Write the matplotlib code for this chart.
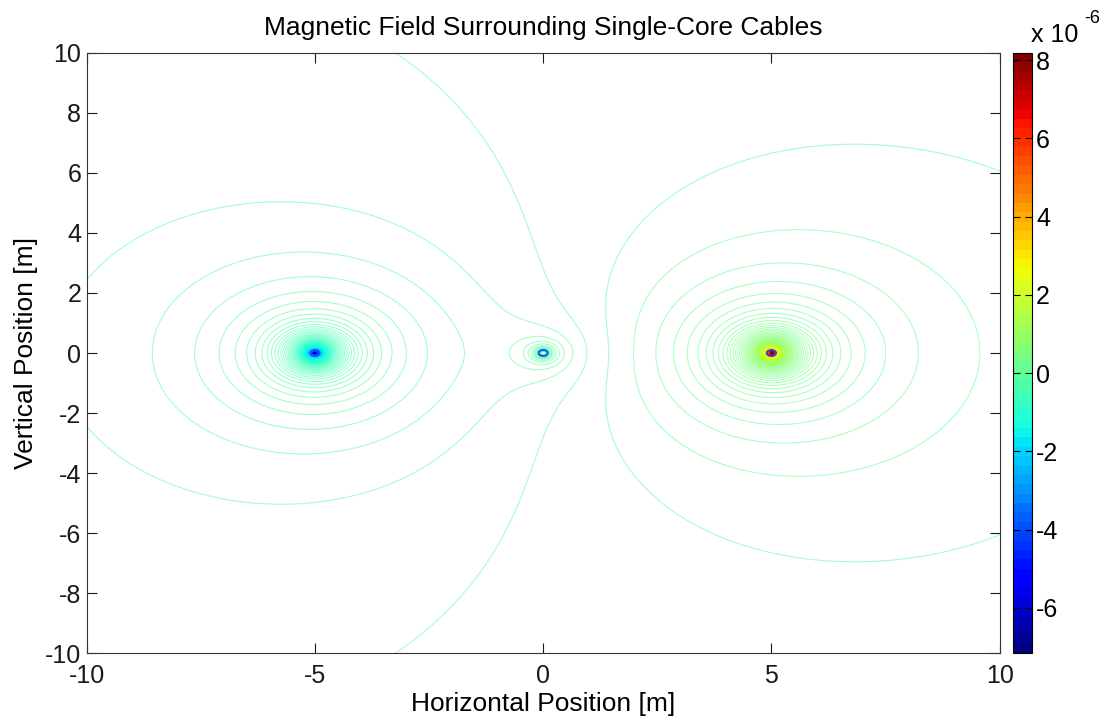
import numpy as np
import matplotlib
matplotlib.use('Agg')
import matplotlib.pyplot as plt
from matplotlib.patches import Circle
from matplotlib.colors import Normalize, ListedColormap
from matplotlib.cm import ScalarMappable

plt.rcParams['font.family'] = ['Liberation Sans', 'DejaVu Sans']
plt.rcParams['axes.unicode_minus'] = False

# three single-core cables on the horizontal axis, currents at one instant (A)
cable_x = [-5.0, 0.0, 5.0]
cable_y = [0.0, 0.0, 0.0]
cable_current = [-1.62, -0.21, 1.83]
cable_radius = 0.1

# sampling grid and contour settings
grid_n = 250
grid_lim = 10.0
n_levels = 500
level_shift = 0.25

# colour limits
b_min = -7.15e-6
b_max = 8.18e-6
cbar_ticks = [-6e-6, -4e-6, -2e-6, 0, 2e-6, 4e-6, 6e-6, 8e-6]
cbar_labels = ['-6', '-4', '-2', '0', '2', '4', '6', '8']

xticks = [-10, -5, 0, 5, 10]
yticks = [-10, -8, -6, -4, -2, 0, 2, 4, 6, 8, 10]

mu0_2pi = 2e-7

x = np.linspace(-grid_lim, grid_lim, grid_n)
X, Y = np.meshgrid(x, x)
B = np.zeros_like(X)
for cx, cy, cur in zip(cable_x, cable_y, cable_current):
    r = np.sqrt((X - cx)**2 + (Y - cy)**2)
    B += mu0_2pi * cur / r

step = (b_max - b_min) / (n_levels + 1)
k0 = int(np.ceil(b_min / step + level_shift))
k1 = int(np.floor(b_max / step + level_shift))
levels = (np.arange(k0, k1 + 1) - level_shift) * step

cmap = ListedColormap(plt.get_cmap('jet')(np.linspace(0, 1, 64)))
norm = Normalize(vmin=b_min, vmax=b_max)

fig = plt.figure(figsize=(11.12, 7.21), dpi=100)
ax = fig.add_axes([0.078, 0.0943, 0.821, 0.8322])
ax.contour(X, Y, B, levels=levels, cmap=cmap, norm=norm, linewidths=0.8, alpha=0.55)

for cx, cy in zip(cable_x, cable_y):
    ax.add_patch(Circle((cx, cy), cable_radius, fill=False, ec='#1f45ff', lw=1.3, zorder=4))

ax.set_xlim(-10, 10)
ax.set_ylim(-10, 10)
ax.set_xticks(xticks)
ax.set_yticks(yticks)
ax.tick_params(direction='in', top=True, right=True, length=7, width=0.8,
               labelsize=18, colors='0.1', pad=4)
ax.tick_params(axis='x', pad=8)
for s in ax.spines.values():
    s.set_linewidth(0.8)
    s.set_color('0.2')
ax.set_xlabel('Horizontal Position [m]', fontsize=19, labelpad=3)
ax.set_ylabel('Vertical Position [m]', fontsize=19, labelpad=5)
ax.set_title('Magnetic Field Surrounding Single-Core Cables', fontsize=19, pad=13)

cax = fig.add_axes([0.911, 0.0943, 0.0171, 0.8322])
cb = fig.colorbar(ScalarMappable(norm=norm, cmap=cmap), cax=cax)
cb.set_ticks(cbar_ticks)
cb.set_ticklabels(cbar_labels)
cb.outline.set_linewidth(0.8)
cax.tick_params(direction='in', left=True, right=True, length=5, width=0.8,
                labelsize=18, pad=3)
fig.text(0.927, 0.935, 'x 10', fontsize=18, ha='left', va='bottom')
fig.text(0.975, 0.962, '-6', fontsize=13, ha='left', va='bottom')

fig.savefig('out.png')
